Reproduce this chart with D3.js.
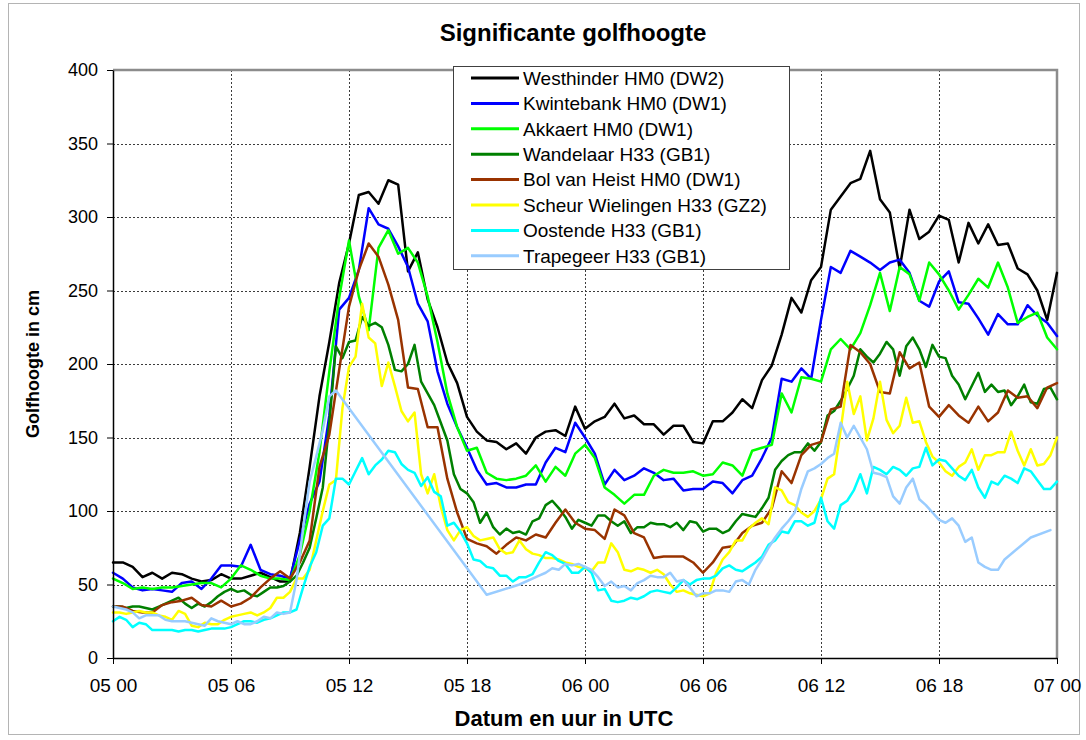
<!DOCTYPE html>
<html><head><meta charset="utf-8">
<script src="https://cdn.jsdelivr.net/npm/d3@7"></script>
<style>
body{margin:0;background:#fff}
svg{display:block}
text{font-family:"Liberation Sans",Arial,sans-serif}
</style>
</head><body>
<svg id="c" width="1086" height="740"></svg>
<script>
// ---- data ----
const xTickHours = [0, 6, 12, 18, 24, 30, 36, 42, 48];
const xTickLabels = ["05 00", "05 06", "05 12", "05 18", "06 00", "06 06", "06 12", "06 18", "07 00"];
const yTicks = [0, 50, 100, 150, 200, 250, 300, 350, 400];

const seriesNames = ["Westhinder HM0 (DW2)", "Kwintebank HM0 (DW1)", "Akkaert HM0 (DW1)", "Wandelaar H33 (GB1)",
  "Bol van Heist HM0 (DW1)", "Scheur Wielingen H33 (GZ2)", "Oostende H33 (GB1)", "Trapegeer H33 (GB1)"];
const seriesColors = ["#000000", "#0000ff", "#00ff00", "#008000", "#993300", "#ffff00", "#00ffff", "#99ccff"];
// HM0 series: one value every 30 minutes; H33 series: one value every 20 minutes (hours from 05 00)
const seriesStepHours = [0.5, 0.5, 0.5, 1/3, 0.5, 1/3, 1/3, 1/3];

const westhinder = [65,65,62,55,58,54,58,57,54,52,
  53,57,54,54,56,58,55,52,52,85,
  130,178,215,255,282,315,317,309,325,322,
  263,276,244,225,201,187,164,154,148,147,
  142,146,139,150,154,155,151,171,156,161,
  164,173,163,165,159,159,152,158,158,147,
  146,161,161,167,176,170,189,199,220,245,
  235,257,266,305,314,323,326,345,312,303,
  265,305,285,290,301,298,269,296,282,295,
  281,282,265,261,250,230,262];
const kwintebank = [58,54,48,46,47,46,45,51,52,47,
  54,63,63,62,77,60,57,56,54,80,
  105,120,165,237,245,264,306,295,292,280,
  266,241,229,195,173,157,143,128,118,119,
  116,116,118,118,133,143,140,160,150,139,
  118,128,121,124,129,126,121,122,114,115,
  115,120,119,112,121,124,136,150,190,188,
  197,190,230,266,262,277,273,269,264,269,
  271,262,243,239,256,263,242,241,231,220,
  234,227,227,240,233,228,219];
const akkaert = [54,51,47,48,47,48,48,49,50,51,
  51,48,54,63,60,56,54,54,53,70,
  100,140,195,245,284,246,223,279,291,275,
  279,269,246,215,180,157,141,143,126,122,
  121,122,124,131,120,130,124,139,145,136,
  116,111,105,111,111,124,128,126,126,127,
  124,125,133,131,124,141,143,145,180,167,
  191,190,188,210,217,210,221,240,262,236,
  266,261,243,269,261,250,237,247,258,252,
  269,252,228,232,235,218,210];
const wandelaar = [35,35,34,35,35,34,33,35,37,39,
  41,37,34,37,35,38,42,45,47,45,
  46,43,42,45,48,48,49,52,56,65,
  75,95,116,160,212,204,215,216,232,226,
  228,225,213,196,195,200,213,188,180,172,
  160,148,125,115,112,106,92,99,89,84,
  88,85,86,84,93,95,104,107,102,96,
  88,94,92,90,97,97,93,90,93,85,
  89,89,92,91,91,89,92,87,93,92,
  86,88,88,85,87,93,98,97,96,102,
  109,128,134,138,140,140,146,141,147,165,
  168,175,183,192,210,205,201,207,215,210,
  192,212,218,210,198,213,205,204,192,186,
  176,185,194,181,186,181,182,172,178,186,
  174,173,183,184,176];
const bolVanHeist = [35,35,32,31,31,36,38,39,41,36,
  35,39,35,37,41,48,54,59,54,65,
  80,130,152,196,239,264,282,273,254,230,
  184,183,157,157,122,99,81,78,76,71,
  77,82,80,84,82,92,101,92,88,87,
  81,101,97,85,82,68,69,69,69,65,
  58,65,75,76,85,90,92,102,127,119,
  138,145,147,169,171,213,208,200,181,180,
  208,197,201,171,164,172,165,160,171,161,
  167,182,177,178,170,184,187];
const scheurWielingen = [31,31,30,31,32,31,31,29,28,26,
  32,30,22,21,24,23,23,26,28,29,
  30,31,29,31,34,41,41,45,54,54,
  60,80,100,118,121,170,198,205,241,218,
  214,185,201,185,168,161,167,125,112,125,
  103,87,80,87,89,83,80,81,82,74,
  71,72,80,74,71,70,68,68,67,65,
  64,62,61,59,65,65,78,72,60,59,
  61,60,58,60,57,50,45,46,44,43,
  42,44,58,67,72,80,80,88,92,95,
  91,116,114,106,104,99,96,100,108,122,
  125,155,188,166,178,148,163,188,162,153,
  158,177,160,161,147,137,133,127,124,130,
  133,142,128,138,138,140,140,154,141,131,
  142,131,132,138,150];
const oostende = [25,28,26,21,24,23,19,19,19,19,
  18,19,19,18,19,20,20,20,21,23,
  25,25,24,26,27,29,31,31,33,48,
  62,72,90,95,122,122,118,127,136,125,
  131,135,141,140,132,128,126,117,123,113,
  110,90,92,86,78,67,66,62,61,56,
  56,52,55,55,57,65,72,70,66,64,
  58,58,62,58,46,47,39,38,39,41,
  40,42,45,46,45,44,48,53,50,53,
  54,54,56,61,63,60,59,62,65,69,
  77,80,86,85,93,93,90,92,109,93,
  88,104,107,114,125,112,130,128,125,130,
  128,124,129,130,143,131,135,134,129,124,
  121,128,116,109,120,118,124,122,119,129,
  127,121,115,115,120];
// null = missing measurement (the line is drawn straight across the gap)
const trapegeer = [35,34,33,31,27,29,29,29,26,25,
  25,25,24,23,22,27,25,24,23,25,
  23,23,25,28,27,31,30,31,53,88,
  120,137,155,178,182,null,null,null,null,null,
  null,null,null,null,null,null,null,null,null,null,
  null,null,null,null,null,null,null,43,null,null,
  null,null,50,null,null,56,58,61,60,64,
  63,64,62,60,55,49,52,48,49,46,
  51,53,56,55,55,58,52,53,48,42,
  44,44,46,46,45,52,53,50,60,67,
  75,82,88,93,99,115,127,129,132,136,
  139,160,150,158,150,142,126,125,123,110,
  105,116,122,108,104,99,94,92,95,90,
  79,82,65,62,60,60,67,null,null,null,
  82,null,null,87,null];

const seriesValues = [westhinder, kwintebank, akkaert, wandelaar, bolVanHeist, scheurWielingen, oostende, trapegeer];

// ---- layout ----
const svg = d3.select("#c");
const plot = {left: 113, right: 1057, top: 70, bottom: 658};

svg.append("rect").attr("x", 8.5).attr("y", 3.5).attr("width", 1071).attr("height", 731)
  .attr("fill", "#fff").attr("stroke", "#b4b4b4").attr("stroke-width", 1);

const x = d3.scaleLinear().domain([0, 48]).range([plot.left, plot.right]);
const y = d3.scaleLinear().domain([0, 400]).range([plot.bottom, plot.top]);

// gridlines
const grid = svg.append("g").attr("stroke", "#3c3c3c").attr("stroke-width", 1).attr("stroke-dasharray", "2,2");
grid.selectAll("line.h").data(yTicks.filter(v => v > 0 && v < 400)).join("line")
  .attr("x1", plot.left).attr("x2", plot.right)
  .attr("y1", d => Math.round(y(d)) + 0.5).attr("y2", d => Math.round(y(d)) + 0.5);
grid.selectAll("line.v").data(xTickHours.filter(h => h > 0 && h < 48)).join("line")
  .attr("y1", plot.top).attr("y2", plot.bottom)
  .attr("x1", d => Math.round(x(d)) + 0.5).attr("x2", d => Math.round(x(d)) + 0.5);

// plot area border (top / right grey)
svg.append("path")
  .attr("d", `M${plot.left},${plot.top}H${plot.right}V${plot.bottom}`)
  .attr("fill", "none").attr("stroke", "#8c8c8c").attr("stroke-width", 2.5);

// series
const line = d3.line().x(d => x(d.t)).y(d => y(d.v));
const lines = svg.append("g").attr("fill", "none").attr("stroke-width", 2.5)
  .attr("stroke-linejoin", "round").attr("stroke-linecap", "round");
seriesValues.forEach((vals, i) => {
  const pts = vals.map((v, k) => ({t: k * seriesStepHours[i], v: v})).filter(d => d.v !== null);
  lines.append("path").datum(pts).attr("stroke", seriesColors[i]).attr("d", line);
});

// axes
const xAxis = d3.axisBottom(x).tickValues(xTickHours).tickFormat((d, i) => xTickLabels[i])
  .tickSizeInner(6).tickSizeOuter(0).tickPadding(15);
const yAxis = d3.axisLeft(y).tickValues(yTicks).tickSizeInner(6).tickSizeOuter(0).tickPadding(9);
const gx = svg.append("g").attr("transform", `translate(0,${plot.bottom})`).call(xAxis);
const gy = svg.append("g").attr("transform", `translate(${plot.left},0)`).call(yAxis);
[gx, gy].forEach(g => {
  g.select(".domain").attr("stroke", "#000").attr("stroke-width", 1.5);
  g.selectAll(".tick line").attr("stroke", "#000").attr("stroke-width", 1);
  g.selectAll(".tick text").attr("fill", "#000")
    .style("font-family", '"Liberation Sans", Arial, sans-serif');
});
gx.selectAll(".tick text").style("font-size", "19px");
gy.selectAll(".tick text").style("font-size", "18px");

// titles
svg.append("text").attr("x", 573).attr("y", 41).attr("text-anchor", "middle")
  .style("font-size", "24px").style("font-weight", "bold").text("Significante golfhoogte");
svg.append("text").attr("x", 564).attr("y", 726).attr("text-anchor", "middle")
  .style("font-size", "22px").style("font-weight", "bold").text("Datum en uur in UTC");
svg.append("text").attr("transform", "translate(39,364) rotate(-90)").attr("text-anchor", "middle")
  .style("font-size", "18px").style("font-weight", "bold").text("Golfhoogte in cm");

// legend
const lg = svg.append("g");
lg.append("rect").attr("x", 453.5).attr("y", 66.5).attr("width", 336).attr("height", 203)
  .attr("fill", "#fff").attr("stroke", "#404040").attr("stroke-width", 1);
seriesNames.forEach((name, i) => {
  const cy = 78 + i * 25.4;
  lg.append("line").attr("x1", 471).attr("x2", 519).attr("y1", cy).attr("y2", cy)
    .attr("stroke", seriesColors[i]).attr("stroke-width", 3);
  lg.append("text").attr("x", 523).attr("y", cy).attr("dy", "0.36em")
    .style("font-size", "19px").text(name);
});
</script>
</body></html>
